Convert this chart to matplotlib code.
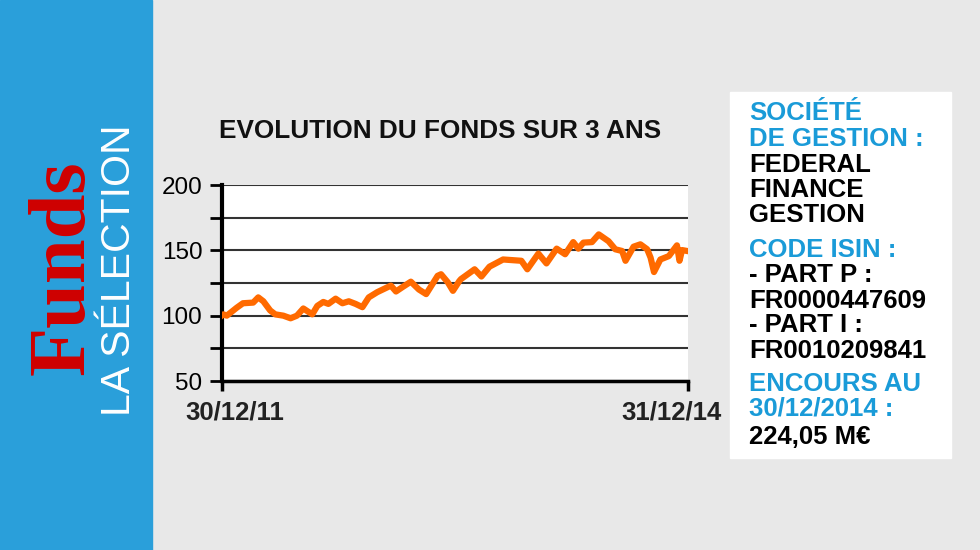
import numpy as np
import matplotlib.pyplot as plt
from matplotlib.ticker import MultipleLocator

# days since 30/12/2011 and fund value (base 100)
days = [0, 4, 12, 35, 50, 74, 86, 98, 114, 126, 145, 162, 177, 192, 213, 225,
        239, 251, 268, 284, 299, 315, 331, 346, 366, 398, 410, 426, 445, 464,
        481, 508, 516, 532, 544, 559, 563, 595, 611, 630, 662, 705, 719, 745,
        764, 788, 808, 827, 839, 851, 871, 887, 910, 926, 942, 950, 969, 985,
        1001, 1009, 1017, 1032, 1052, 1071, 1077, 1083, 1095]
values = [100, 101, 100, 106, 109.5, 110, 114, 111, 104, 101, 100, 98, 100,
          105.5, 101, 107.5, 110.5, 109, 113, 109.5, 111, 109, 106.5, 114, 118,
          123, 118.5, 122, 126, 120, 116.5, 130.5, 131.7, 125.5, 119, 126.5,
          128, 135.5, 130, 137.5, 143, 142, 135.5, 147.5, 140, 151.3, 147,
          156.3, 151.3, 155.9, 156.3, 162.2, 157, 150.8, 149.5, 142, 152.8,
          154.6, 150.8, 144.4, 133.4, 143, 145.6, 153.8, 142, 150.2, 149.5]
x_ticks = [0, 1097]
x_labels = ["30/12/11", "31/12/14"]
y_labels = [50, 100, 150, 200]

title = "EVOLUTION DU FONDS SUR 3 ANS"
info_lines = [
    ("SOCIÉTÉ", "blue"), ("DE GESTION :", "blue"),
    ("FEDERAL", "black"), ("FINANCE", "black"), ("GESTION", "black"),
    ("CODE ISIN :", "blue"), ("- PART P :", "black"), ("FR0000447609", "black"),
    ("- PART I :", "black"), ("FR0010209841", "black"),
    ("ENCOURS AU", "blue"), ("30/12/2014 :", "blue"), ("224,05 M€", "black"),
]

BG = "#e8e8e8"
BAND = "#2a9fda"
TXT_BLUE = "#1a9bd8"
ORANGE = "#ff6a00"

plt.rcParams['font.family'] = ['Liberation Sans', 'DejaVu Sans']

W, H = 980, 550
fig = plt.figure(figsize=(9.8, 5.5), dpi=100, facecolor=BG)

# left blue band
fig.patches.append(plt.Rectangle((0, 0), 152 / W, 1, transform=fig.transFigure,
                                 color=BAND, zorder=0))
fig.text(64 / W, 1 - 268 / H, "Funds", rotation=90, ha='center', va='center',
         color="#d00000", fontsize=58, fontweight='bold',
         family=['Liberation Serif', 'DejaVu Serif'])
fig.text(119 / W, 1 - 270 / H, "LA SÉLECTION", rotation=90, ha='center', va='center',
         color="white", fontsize=29.5, fontweight='normal',
         family=['Liberation Sans', 'DejaVu Sans'])

# info box
fig.patches.append(plt.Rectangle((730 / W, 1 - 458 / H), 221 / W, 366 / H,
                                 transform=fig.transFigure, color="white", zorder=0))
y0 = 113.5
steps = [0, 25.5, 26, 25, 25, 35, 25.5, 25, 24.5, 25.5, 33.5, 25, 28]
yy = y0
for (txt, col), st in zip(info_lines, steps):
    yy = yy + st
    fig.text(749 / W, 1 - yy / H, txt, ha='left', va='center',
             color=TXT_BLUE if col == "blue" else "black",
             fontsize=18.5, fontweight='bold')

# chart
ax = fig.add_axes([221.7 / W, 1 - 381 / H, (688 - 221.7) / W, 196 / H])
ax.set_facecolor("white")
ax.plot(days, values, color=ORANGE, lw=4.5, solid_joinstyle='round', zorder=3)
ax.set_xlim(0, 1097)
ax.set_ylim(50, 200)
ax.yaxis.set_major_locator(MultipleLocator(50))
ax.yaxis.set_minor_locator(MultipleLocator(25))
ax.set_yticks(y_labels)
ax.set_yticklabels([str(v) for v in y_labels])
ax.grid(True, which='both', axis='y', color="#333333", lw=1.5)
ax.set_axisbelow(True)
for s in ['top', 'right']:
    ax.spines[s].set_visible(False)
ax.spines['left'].set_linewidth(3)
ax.spines['bottom'].set_linewidth(2.5)
ax.tick_params(axis='y', which='both', length=9, width=2, direction='out',
               labelsize=17.5, pad=5)
ax.set_xticks(x_ticks)
ax.set_xticklabels([])
ax.tick_params(axis='x', length=7, width=2.5, direction='out')
ax.annotate(x_labels[0], xy=(0, 0), xycoords='axes fraction', xytext=(-26, -14),
            textcoords='offset points', ha='left', va='top', fontsize=18.5,
            fontweight='bold', color="#222222")
ax.annotate(x_labels[1], xy=(1, 0), xycoords='axes fraction', xytext=(24, -14),
            textcoords='offset points', ha='right', va='top', fontsize=18.5,
            fontweight='bold', color="#222222")

fig.text(440 / W, 1 - 131 / H, title, ha='center', va='center', fontsize=18.8,
         fontweight='bold', color="#111111")

fig.savefig("out.png", dpi=100, facecolor=BG)
